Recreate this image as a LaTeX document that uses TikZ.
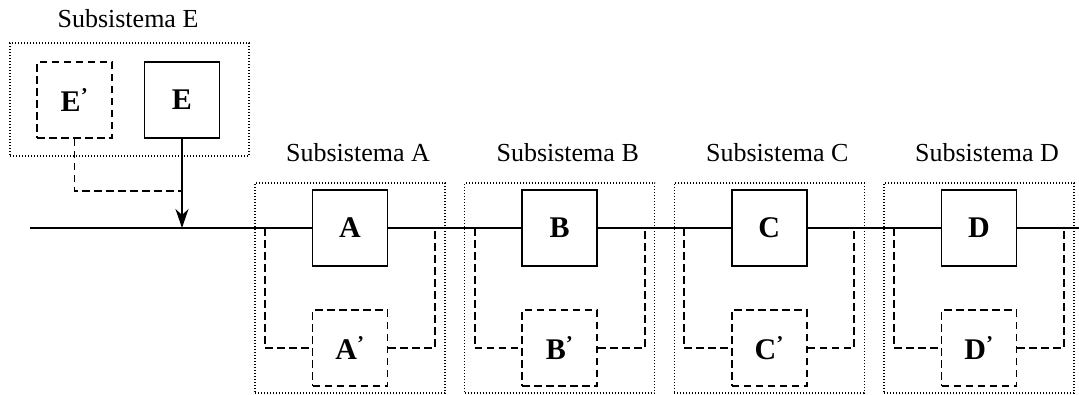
\documentclass[tikz,border=0pt]{standalone}
\usepackage{fontspec}
\setmainfont{Liberation Serif}
\usetikzlibrary{arrows.meta}

\begin{document}
\begin{tikzpicture}[x=1pt,y=-1pt,
  blk/.style={draw,line width=1.8pt,minimum width=75pt,minimum height=76pt,
    inner sep=0pt,font=\fontsize{30}{34}\selectfont\bfseries},
  spare/.style={blk,dash pattern=on 7.5pt off 4.5pt},
  frame/.style={draw,line width=1.2pt,dash pattern=on 1.1pt off 1.9pt,inner sep=0pt},
  title/.style={font=\fontsize{26}{30}\selectfont},
  wire/.style={line width=1.8pt},
  bypass/.style={line width=1.8pt,dash pattern=on 7.5pt off 4.5pt}]

\useasboundingbox (0,0) rectangle (1079,394);

% main line end points
\coordinate (in)  at (30,228);
\coordinate (out) at (1079,228);

% subsystem E: active unit E with standby E'
\node[frame,minimum width=239pt,minimum height=113pt] (fE) at (129.5,99.5) {};
\node[title] (tE) at (128,19) {Subsistema E};
\node[spare] (Ep) at (74.5,100) {E\textsuperscript{’}};
\node[blk]   (E)  at (182,100) {E};
\coordinate (jE) at (182,228);
\coordinate (kE) at (182,191);
\draw[wire,-{Stealth[length=19pt,width=13pt,inset=6pt]}] (E.south) -- (jE);
\draw[bypass] (Ep.south) |- (kE);

% subsystems A to D, each with a standby unit on a bypass branch
\foreach \s/\cx in {A/350,B/559.7,C/769.3,D/979}{
  \node[frame,minimum width=190pt,minimum height=210pt] (f\s) at (\cx,288) {};
  \node[title] (t\s) at (\cx+8,153) {Subsistema \s};
  \node[blk]   (\s)  at (\cx,228) {\s};
  \node[spare] (\s p) at (\cx,348) {\s\textsuperscript{’}};
  \coordinate (l\s) at (\cx-85,228);
  \coordinate (r\s) at (\cx+85,228);
  \draw[bypass] (l\s) |- (\s p.west);
  \draw[bypass] (\s p.east) -| (r\s);
}

% series chain through the active units
\draw[wire] (in) -- (A.west);
\draw[wire] (A.east) -- (B.west);
\draw[wire] (B.east) -- (C.west);
\draw[wire] (C.east) -- (D.west);
\draw[wire] (D.east) -- (out);
\end{tikzpicture}
\end{document}
